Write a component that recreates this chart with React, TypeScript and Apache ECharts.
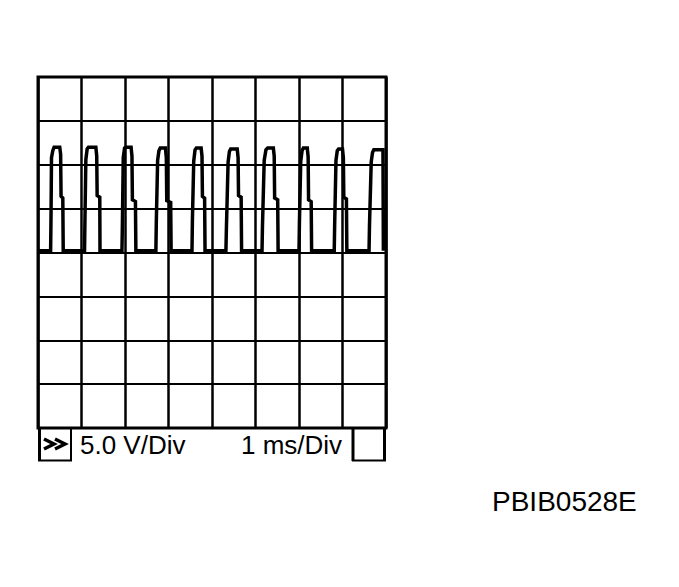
import React, { useEffect, useRef } from "react";
import * as echarts from "echarts";

// Oscilloscope settings
const timeTicksMs = [0, 1, 2, 3, 4, 5, 6, 7, 8];
const voltTicks = [-20, -15, -10, -5, 0, 5, 10, 15, 20];
const voltsPerDivLabel = "5.0 V/Div";
const timePerDivLabel = "1 ms/Div";
const figureCode = "PBIB0528E";

// Waveform: [time ms, volts]
const waveform: [number, number][] = [
  [0, 0.2], [0.29, 0.2], [0.3, 4.5], [0.31, 10.8], [0.34, 11.6], [0.37, 12.0], [0.5, 12.0], [0.52, 11.2], [0.53, 6.4], [0.57, 6.2], [0.58, 0.2],
  [1.07, 0.2], [1.08, 4.0], [1.1, 10.6], [1.13, 11.8], [1.16, 12.0], [1.33, 12.0], [1.35, 11.0], [1.36, 6.5], [1.42, 6.3], [1.425, 0.2],
  [1.93, 0.2], [1.94, 3.2], [1.96, 10.8], [1.99, 11.9], [2.02, 12.0], [2.14, 12.0], [2.16, 11.0], [2.17, 6.0], [2.24, 5.8], [2.25, 0.2],
  [2.71, 0.2], [2.72, 3.5], [2.75, 10.5], [2.78, 11.6], [2.81, 11.9], [2.93, 11.9], [2.95, 10.8], [2.96, 5.9], [3.05, 5.7], [3.06, 0.2],
  [3.54, 0.2], [3.55, 3.8], [3.58, 10.4], [3.61, 11.7], [3.64, 11.9], [3.75, 11.9], [3.77, 11.0], [3.78, 6.4], [3.83, 6.2], [3.84, 0.2],
  [4.32, 0.2], [4.33, 2.5], [4.37, 10.3], [4.4, 11.5], [4.43, 11.8], [4.58, 11.8], [4.6, 10.8], [4.61, 6.5], [4.67, 6.3], [4.68, 0.2],
  [5.15, 0.2], [5.16, 3.0], [5.2, 10.5], [5.24, 11.7], [5.28, 11.9], [5.41, 11.9], [5.43, 11.0], [5.44, 6.2], [5.51, 6.0], [5.52, 0.2],
  [6.0, 0.2], [6.01, 3.5], [6.04, 10.4], [6.07, 11.6], [6.1, 11.9], [6.19, 11.9], [6.21, 10.9], [6.22, 6.0], [6.28, 5.8], [6.29, 0.2],
  [6.81, 0.2], [6.82, 3.2], [6.85, 10.5], [6.88, 11.6], [6.91, 11.8], [7.0, 11.8], [7.02, 10.8], [7.03, 6.3], [7.09, 6.1], [7.1, 0.2],
  [7.61, 0.2], [7.62, 3.0], [7.66, 10.3], [7.69, 11.4], [7.72, 11.7], [7.93, 11.7], [7.94, 0.2],
];

const FONT = "'Liberation Sans', Arial, Helvetica, sans-serif";

export default function App() {
  const ref = useRef<HTMLDivElement>(null);
  useEffect(() => {
    if (!ref.current) return;
    const chart = echarts.init(ref.current, null, { renderer: "svg" });
    const tStep = timeTicksMs[1] - timeTicksMs[0];
    const vStep = voltTicks[1] - voltTicks[0];
    chart.setOption({
      animation: false,
      backgroundColor: "#ffffff",
      grid: {
        left: 38,
        top: 77,
        width: 348,
        height: 351,
        show: true,
        borderColor: "#000",
        borderWidth: 3,
        backgroundColor: "transparent",
      },
      xAxis: {
        type: "value",
        min: timeTicksMs[0],
        max: timeTicksMs[timeTicksMs.length - 1],
        interval: tStep,
        axisLine: { show: false },
        axisTick: { show: false },
        axisLabel: { show: false },
        splitLine: { show: true, lineStyle: { color: "#000", width: 2.5 } },
      },
      yAxis: {
        type: "value",
        min: voltTicks[0],
        max: voltTicks[voltTicks.length - 1],
        interval: vStep,
        axisLine: { show: false },
        axisTick: { show: false },
        axisLabel: { show: false },
        splitLine: { show: true, lineStyle: { color: "#000", width: 2.2 } },
      },
      series: [
        {
          type: "line",
          data: waveform,
          showSymbol: false,
          symbol: "none",
          lineStyle: { color: "#000", width: 3.5, join: "miter" },
          z: 3,
        },
      ],
      graphic: [
        // status bar
        { type: "line", shape: { x1: 39.5, y1: 428, x2: 39.5, y2: 461 }, style: { stroke: "#000", lineWidth: 3 } },
        { type: "line", shape: { x1: 71, y1: 428, x2: 71, y2: 461 }, style: { stroke: "#000", lineWidth: 2 } },
        { type: "line", shape: { x1: 38, y1: 460.5, x2: 72, y2: 460.5 }, style: { stroke: "#000", lineWidth: 2 } },
        { type: "line", shape: { x1: 353, y1: 428, x2: 353, y2: 461 }, style: { stroke: "#000", lineWidth: 3 } },
        { type: "line", shape: { x1: 384.5, y1: 428, x2: 384.5, y2: 461 }, style: { stroke: "#000", lineWidth: 3 } },
        { type: "line", shape: { x1: 352, y1: 460.5, x2: 386, y2: 460.5 }, style: { stroke: "#000", lineWidth: 2 } },
        {
          type: "polyline",
          shape: { points: [[44, 439], [54, 444], [44, 449]] },
          style: { stroke: "#000", lineWidth: 3.5, fill: "none" },
        },
        {
          type: "polyline",
          shape: { points: [[55, 439], [65, 444], [55, 449]] },
          style: { stroke: "#000", lineWidth: 3.5, fill: "none" },
        },
        {
          type: "text",
          x: 80,
          y: 445,
          style: { text: voltsPerDivLabel, font: `26px ${FONT}`, fill: "#000", verticalAlign: "middle", textAlign: "left" },
        },
        {
          type: "text",
          x: 241,
          y: 445,
          style: { text: timePerDivLabel, font: `26px ${FONT}`, fill: "#000", verticalAlign: "middle", textAlign: "left" },
        },
        {
          type: "text",
          x: 492,
          y: 501,
          style: { text: figureCode, font: `28px ${FONT}`, fill: "#000", verticalAlign: "middle", textAlign: "left" },
        },
      ],
    });
    return () => chart.dispose();
  }, []);
  return (
    <div
      ref={ref}
      style={{ position: "fixed", left: 0, top: 0, width: 679, height: 587, background: "#fff" }}
    />
  );
}
